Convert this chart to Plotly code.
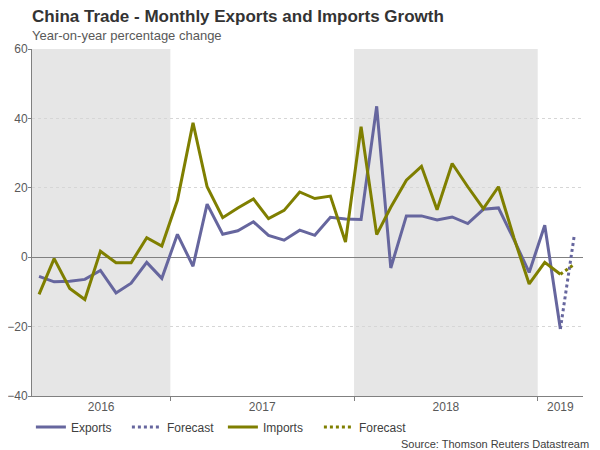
import plotly.graph_objects as go
import pandas as pd

# monthly observations, Apr 2016 - Feb 2019 (plotted mid-month)
months = pd.date_range("2016-04-01", "2019-02-01", freq="MS") + pd.Timedelta(days=14)

exports = [-5.5, -7.1, -6.9, -6.4, -3.8, -10.3, -7.5, -1.5, -6.1,
           6.6, -2.6, 15.3, 6.6, 7.6, 10.2, 6.3, 4.9, 7.8, 6.3, 11.5, 11.0,
           10.9, 43.5, -3.1, 11.9, 11.9, 10.7, 11.6, 9.7, 13.8, 14.2, 5.0, -4.4,
           9.2, -20.7]
imports = [-10.7, -0.4, -9.0, -12.2, 1.7, -1.6, -1.6, 5.6, 3.2,
           16.4, 38.7, 20.3, 11.4, 14.2, 16.8, 11.1, 13.5, 18.8, 16.9, 17.6, 4.4,
           37.6, 6.5, 14.4, 22.2, 26.2, 13.7, 27.0, 20.3, 14.0, 20.3, 5.5, -7.7,
           -1.5, -4.9]

# forecast: last actual month + March 2019 estimate
fc_dates = ["2019-02-15", "2019-03-15"]
exports_fc = [-20.7, 6.6]
imports_fc = [-4.9, -2.0]

years = ["2016", "2017", "2018", "2019"]
year_starts = ["2016-04-01", "2017-01-01", "2018-01-01", "2019-01-01"]
x_end = "2019-04-01"
shaded = [0, 2]  # 2016 and 2018 get the grey band

PURPLE = "#66669e"
OLIVE = "#7f7f00"
GREY = "#808080"
FONT = "Arial, Liberation Sans, sans-serif"

fig = go.Figure()
fig.add_trace(go.Scatter(x=months, y=exports, mode="lines", name="Exports",
                         line=dict(color=PURPLE, width=3)))
fig.add_trace(go.Scatter(x=fc_dates, y=exports_fc, mode="lines", name="Forecast",
                         line=dict(color=PURPLE, width=3, dash="dot")))
fig.add_trace(go.Scatter(x=months, y=imports, mode="lines", name="Imports",
                         line=dict(color=OLIVE, width=3)))
fig.add_trace(go.Scatter(x=fc_dates, y=imports_fc, mode="lines", name="Forecast",
                         line=dict(color=OLIVE, width=3, dash="dot")))

bounds = [pd.Timestamp(d) for d in year_starts] + [pd.Timestamp(x_end)]
for i in shaded:
    fig.add_shape(type="rect", xref="x", yref="paper", x0=bounds[i], x1=bounds[i + 1],
                  y0=0, y1=1, fillcolor="#e6e6e6", line_width=0, layer="below")

# year labels sit in the middle of each (visible) year
mids = [bounds[i] + (bounds[i + 1] - bounds[i]) / 2 for i in range(len(years))]

# title, subtitle and source as free text (paper coords, plot is 551 x 347 px)
fig.add_annotation(text="<b>China Trade - Monthly Exports and Imports Growth</b>",
                   xref="paper", yref="paper", x=0, y=1.094, xanchor="left",
                   yanchor="middle", showarrow=False, xshift=-2,
                   font=dict(size=17, color="#333333"))
fig.add_annotation(text="Year-on-year percentage change",
                   xref="paper", yref="paper", x=0, y=1.040, xanchor="left",
                   yanchor="middle", showarrow=False, xshift=-2,
                   font=dict(size=13, color="#595959"))
fig.add_annotation(text="Source: Thomson Reuters Datastream", xref="paper", yref="paper",
                   x=1.014, y=-0.138, xanchor="right", yanchor="middle", showarrow=False,
                   font=dict(size=11, color="#404040"))

# page body adds an 8px offset, so the figure is 8px smaller than the window
fig.update_layout(
    width=592, height=442,
    margin=dict(l=24, r=17, t=41, b=54, autoexpand=False),
    plot_bgcolor="white", paper_bgcolor="white",
    font=dict(family=FONT, size=12, color="#595959"),
    showlegend=True,
    legend=dict(orientation="h", x=-0.002, xanchor="left", y=-0.089, yanchor="middle",
                font=dict(size=12, color="#404040"), bgcolor="rgba(0,0,0,0)",
                entrywidth=51, entrywidthmode="pixels"),
    xaxis=dict(range=[bounds[0], bounds[-1]], tickvals=mids, ticktext=years, ticks="",
               automargin=False, showgrid=False, showline=True, linecolor=GREY,
               linewidth=1,
               minor=dict(tickvals=bounds[1:-1], ticks="outside", ticklen=4,
                          tickcolor=GREY, showgrid=False)),
    yaxis=dict(range=[-40, 60], dtick=20, showgrid=True, gridcolor="#d6d6d6",
               griddash="dot", zeroline=True, zerolinecolor=GREY, zerolinewidth=1,
               showline=True, linecolor=GREY, ticks="outside", ticklen=3,
               tickcolor=GREY, ticklabelstandoff=-2, automargin=False),
)

fig.write_html("out.html")
